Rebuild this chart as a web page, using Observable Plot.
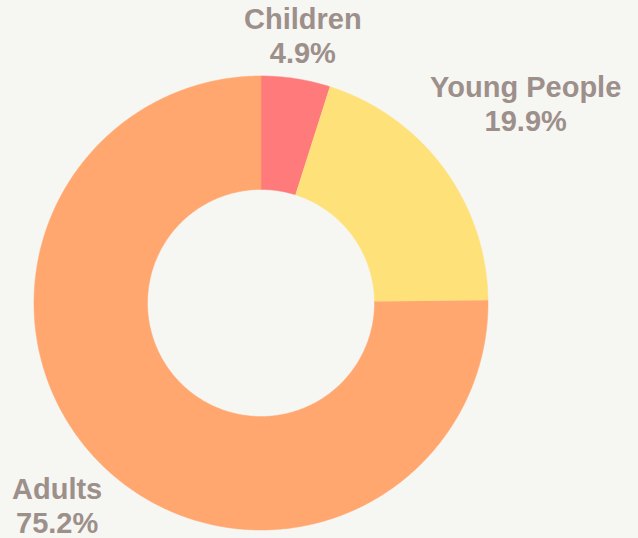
<!DOCTYPE html>
<html>
<head>
<meta charset="utf-8">
<script src="https://cdn.jsdelivr.net/npm/d3@7"></script>
<script src="https://cdn.jsdelivr.net/npm/@observablehq/plot@0.6"></script>
<style>
  html, body { margin: 0; padding: 0; background: #F6F6F3; }
  #chart { width: 638px; height: 538px; }
</style>
</head>
<body>
<div id="chart"></div>
<script>
const categories = ["Children", "Young People", "Adults"];
const values = [4.9, 19.9, 75.2];
const colors = ["#FF7B7B", "#FFE17A", "#FFA76E"];

const W = 638, H = 538;
const cxPx = 260.5, cyPx = 302.5, Rpx = 227;
const inner = 0.5;

const total = d3.sum(values);
let cum = 0;
const slices = categories.map((c, i) => {
  const a0 = cum / total * 2 * Math.PI;
  cum += values[i];
  const a1 = cum / total * 2 * Math.PI;
  return {category: c, value: values[i], a0, a1};
});

// polygon points for each slice
const pts = [];
for (const s of slices) {
  const n = Math.max(8, Math.ceil((s.a1 - s.a0) / (Math.PI / 360)));
  for (let k = 0; k <= n; k++) {
    const a = s.a0 + (s.a1 - s.a0) * k / n;
    pts.push({category: s.category, x: Math.sin(a), y: Math.cos(a)});
  }
  for (let k = n; k >= 0; k--) {
    const a = s.a0 + (s.a1 - s.a0) * k / n;
    pts.push({category: s.category, x: inner * Math.sin(a), y: inner * Math.cos(a)});
  }
}

// label positions
const fs = 29, lh = 1.17;
const ctx = document.createElement("canvas").getContext("2d");
ctx.font = `bold ${fs}px 'Liberation Sans', Arial, sans-serif`;
const labels = slices.map(s => {
  const pct = s.value.toFixed(1) + "%";
  const w = Math.max(ctx.measureText(s.category).width, ctx.measureText(pct).width) / Rpx;
  const h = (fs * lh + fs * 0.75) / Rpx;
  const a = (s.a0 + s.a1) / 2;
  // place block just outside the ring; lift side labels a little (vertical nudge scales with sin of angle)
  const r = 1 + 0.04 + Math.abs(Math.sin(a)) * w / 2 + Math.abs(Math.cos(a)) * h / 2;
  const lift = (Math.cos(a) > 0 ? 0.035 * Math.sin(a) - 0.012 : 0.012);
  return {text: s.category + "\n" + pct, x: r * Math.sin(a) - (Math.sin(a) < 0 ? 0.008 : 0), y: r * Math.cos(a) + lift};
});

const chart = Plot.plot({
  width: W,
  height: H,
  margin: 0,
  style: {background: "#F6F6F3", fontFamily: "'Liberation Sans', Arial, sans-serif"},
  x: {domain: [-cxPx / Rpx, (W - cxPx) / Rpx], range: [0, W], axis: null},
  y: {domain: [-(H - cyPx) / Rpx, cyPx / Rpx], range: [H, 0], axis: null},
  color: {domain: categories, range: colors},
  marks: [
    Plot.line(pts, {x: "x", y: "y", z: "category", fill: "category", stroke: "category", strokeWidth: 0.5, curve: "linear"}),
    Plot.text(labels, {x: "x", y: "y", text: "text", fontSize: fs, fontWeight: "bold", fill: "#9D8F8A", lineHeight: lh, textAnchor: "middle", lineAnchor: "middle"})
  ]
});
document.getElementById("chart").appendChild(chart);
</script>
</body>
</html>
